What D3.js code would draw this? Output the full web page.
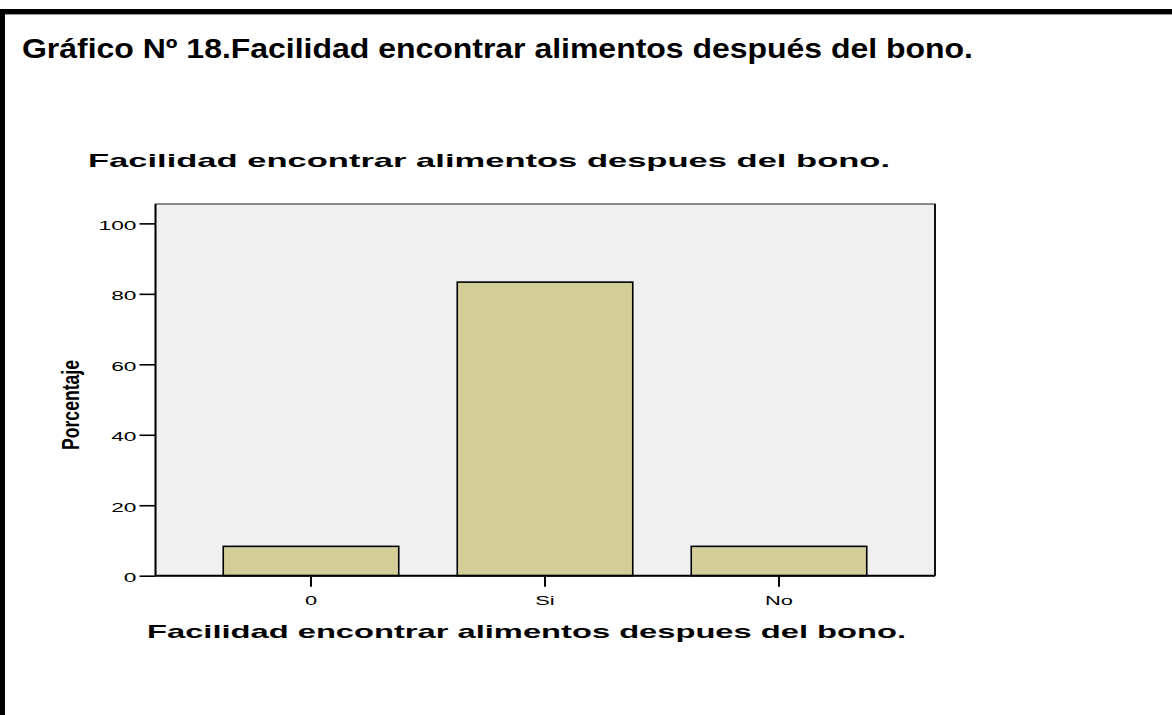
<!DOCTYPE html>
<html>
<head>
<meta charset="utf-8">
<script src="https://cdn.jsdelivr.net/npm/d3@7"></script>
<style>
  html, body { margin: 0; padding: 0; background: #fff; }
  svg { display: block; }
  text { font-family: "Liberation Sans", Arial, sans-serif; fill: #000; }
</style>
</head>
<body>
<svg id="chart" width="1172" height="715"></svg>
<script>
const heading = "Gráfico Nº 18.Facilidad encontrar alimentos después del bono.";
const chartTitle = "Facilidad encontrar alimentos despues del bono.";
const xTitle = "Facilidad encontrar alimentos despues del bono.";
const yTitle = "Porcentaje";
const categories = ["0", "Si", "No"];
const values = [8.33, 83.33, 8.33];
const yTicks = [0, 20, 40, 60, 80, 100];

const svg = d3.select("#chart");

// page frame
svg.append("rect").attr("x", 0).attr("y", 9).attr("width", 1172).attr("height", 5).attr("fill", "#000");
svg.append("rect").attr("x", 0).attr("y", 14).attr("width", 1172).attr("height", 1).attr("fill", "#999");
svg.append("rect").attr("x", 0).attr("y", 9).attr("width", 5).attr("height", 706).attr("fill", "#000");

// heading
svg.append("text").attr("x", 22).attr("y", 58)
  .attr("font-size", 28).attr("font-weight", "bold")
  .attr("textLength", 951).attr("lengthAdjust", "spacingAndGlyphs")
  .text(heading);

const plot = { left: 155.5, right: 935, top: 204, bottom: 575.7 };

const x = d3.scaleBand().domain(categories).range([194, 896])
  .paddingInner(0.25).paddingOuter(0.125);
const y = d3.scaleLinear().domain([0, 105.5]).range([plot.bottom, plot.top]);

// plot background
svg.append("rect")
  .attr("x", plot.left).attr("y", plot.top)
  .attr("width", plot.right - plot.left).attr("height", plot.bottom - plot.top)
  .attr("fill", "#f0f0f0").attr("stroke", "#444").attr("stroke-width", 1.2);
svg.append("line").attr("x1", plot.right).attr("x2", plot.right)
  .attr("y1", plot.top).attr("y2", plot.bottom).attr("stroke", "#111").attr("stroke-width", 2);

// bars
svg.selectAll("rect.bar").data(categories).enter().append("rect")
  .attr("class", "bar")
  .attr("x", d => x(d))
  .attr("y", (d, i) => y(values[i]))
  .attr("width", x.bandwidth())
  .attr("height", (d, i) => y(0) - y(values[i]))
  .attr("fill", "#d3ce98")
  .attr("stroke", "#000").attr("stroke-width", 1.6);

// y axis
const yAxis = d3.axisLeft(y).tickValues(yTicks).tickSize(16).tickPadding(3).tickFormat(d3.format("d"));
const gy = svg.append("g").attr("transform", `translate(${plot.left},0)`).call(yAxis);
gy.select(".domain").remove();
gy.selectAll(".tick line").attr("stroke", "#000").attr("stroke-width", 1.6);
gy.selectAll(".tick text").each(function() {
  const t = d3.select(this);
  t.attr("font-family", "Liberation Sans, Arial, sans-serif").attr("font-size", 13)
   .attr("fill", "#000").attr("dy", "0.45em")
   .attr("transform", "translate(-19,0) scale(1.75,1)").attr("x", 0);
});
svg.append("line").attr("x1", plot.left).attr("x2", plot.left)
  .attr("y1", plot.top).attr("y2", plot.bottom).attr("stroke", "#000").attr("stroke-width", 2);

// x axis
const xAxis = d3.axisBottom(x).tickSize(11).tickPadding(6);
const gx = svg.append("g").attr("transform", `translate(0,${plot.bottom})`).call(xAxis);
gx.select(".domain").remove();
gx.selectAll(".tick line").attr("stroke", "#000").attr("stroke-width", 2);
gx.selectAll(".tick text")
  .attr("font-family", "Liberation Sans, Arial, sans-serif").attr("font-size", 12.5)
  .attr("fill", "#000").attr("dy", "0").attr("y", 29)
  .attr("transform", "scale(1.75,1)");
svg.append("line").attr("x1", plot.left).attr("x2", plot.right)
  .attr("y1", plot.bottom).attr("y2", plot.bottom).attr("stroke", "#000").attr("stroke-width", 2);

// chart title
svg.append("text").attr("x", 88).attr("y", 167)
  .attr("font-size", 18.5).attr("font-weight", "bold")
  .attr("textLength", 802).attr("lengthAdjust", "spacingAndGlyphs")
  .text(chartTitle);

// x title
svg.append("text").attr("x", 147).attr("y", 638)
  .attr("font-size", 18.5).attr("font-weight", "bold")
  .attr("textLength", 759).attr("lengthAdjust", "spacingAndGlyphs")
  .text(xTitle);

// y title
svg.append("text")
  .attr("transform", "translate(79,405) rotate(-90)")
  .attr("text-anchor", "middle")
  .attr("font-size", 23).attr("font-weight", "bold")
  .attr("textLength", 90).attr("lengthAdjust", "spacingAndGlyphs")
  .text(yTitle);
</script>
</body>
</html>
